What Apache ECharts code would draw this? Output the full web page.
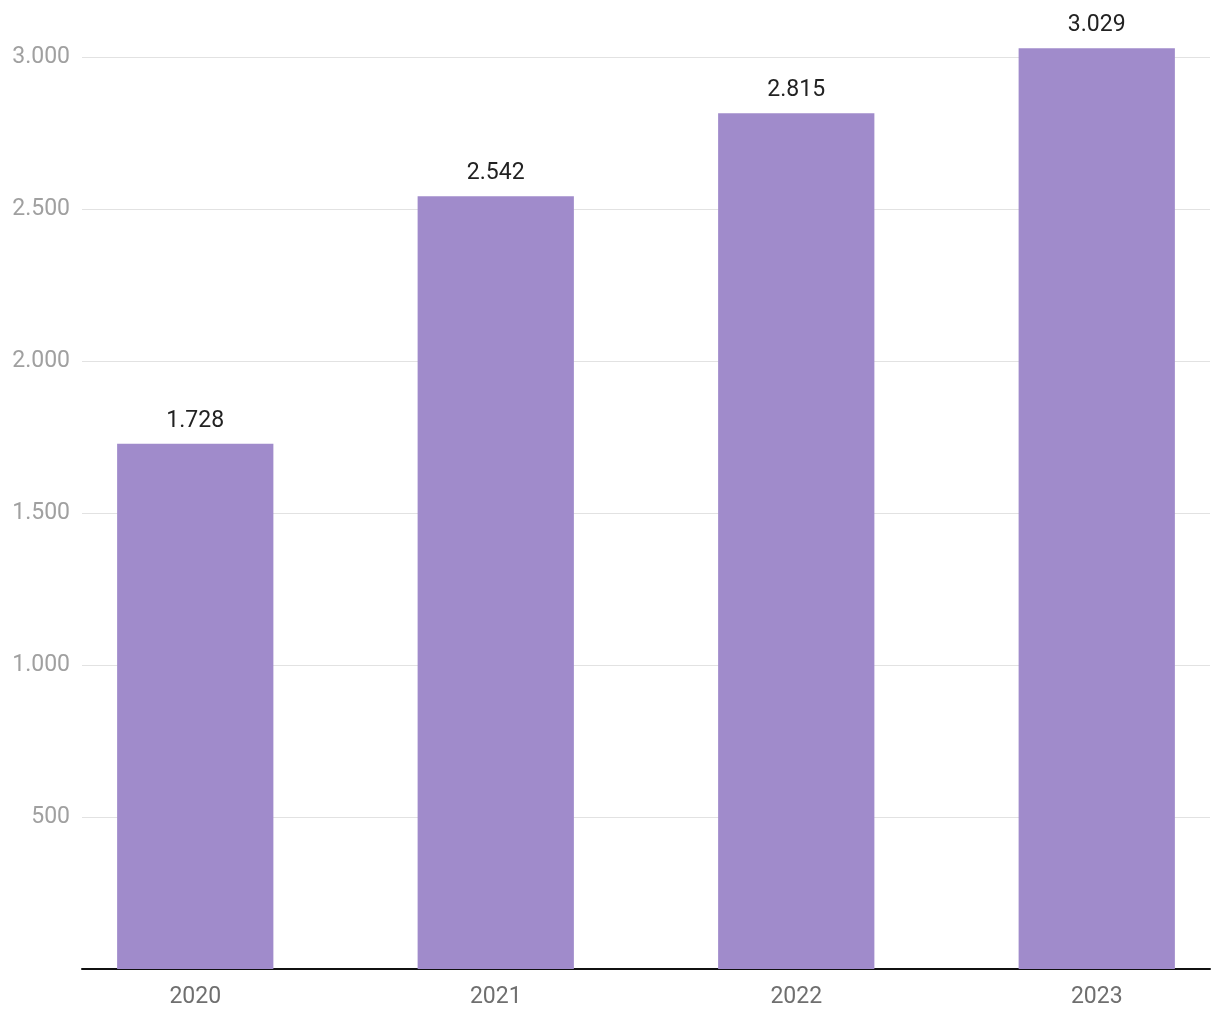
<!DOCTYPE html>
<html>
<head>
<meta charset="utf-8">
<script src="https://cdn.jsdelivr.net/npm/echarts@6/dist/echarts.min.js"></script>
<style>html,body{margin:0;padding:0;background:#fff}#c{width:1220px;height:1020px}</style>
</head>
<body>
<div id="c"></div>
<script>
const categories = ['2020', '2021', '2022', '2023'];
const values = [1728, 2542, 2815, 3029];
const yTicks = [0, 500, 1000, 1500, 2000, 2500, 3000];

function fmt(v) {
  return String(v).replace(/\B(?=(\d{3})+(?!\d))/g, '.');
}

const chart = echarts.init(document.getElementById('c'));
chart.setOption({
  animation: false,
  textStyle: { fontFamily: 'Roboto' },
  grid: [
    { left: 45, width: 1202, top: 57, bottom: 51, containLabel: false, outerBoundsMode: 'none' },
    { left: 82, right: 10, top: 57, bottom: 51, containLabel: false, outerBoundsMode: 'none' }
  ],
  xAxis: [
    {
      gridIndex: 0, type: 'category', data: categories,
      axisLine: { show: false }, axisTick: { show: false },
      axisLabel: { color: '#6f6f6f', fontSize: 23, margin: 17, fontFamily: 'Roboto' }
    },
    {
      gridIndex: 1, type: 'value', min: 0, max: 1,
      axisLine: { show: true, lineStyle: { color: '#111', width: 2 } },
      axisTick: { show: false }, axisLabel: { show: false }, splitLine: { show: false }
    }
  ],
  yAxis: [
    { gridIndex: 0, type: 'value', min: 0, max: 3000, show: false, splitLine: { show: false } },
    {
      gridIndex: 1, type: 'value', min: yTicks[0], max: yTicks[yTicks.length - 1], interval: 500,
      axisLine: { show: false }, axisTick: { show: false },
      axisLabel: {
        color: '#a0a0a0', fontSize: 23, margin: 12, fontFamily: 'Roboto',
        padding: [4, 0, 0, 0],
        formatter: v => (v === 0 ? '' : fmt(v))
      },
      splitLine: { show: true, lineStyle: { color: '#e2e2e2', width: 1 } }
    }
  ],
  series: [{
    type: 'bar',
    xAxisIndex: 0, yAxisIndex: 0,
    data: values,
    barWidth: '52%',
    clip: false,
    itemStyle: { color: '#a08bcb' },
    label: {
      show: true, position: 'top', distance: 11,
      color: '#222', fontSize: 23, fontFamily: 'Roboto',
      formatter: p => fmt(p.value)
    }
  }]
});
</script>
</body>
</html>
